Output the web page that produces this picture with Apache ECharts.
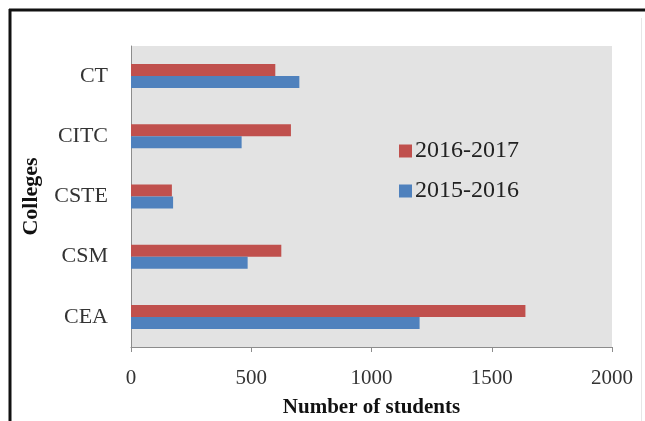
<!DOCTYPE html>
<html><head><meta charset="utf-8">
<script src="https://cdn.jsdelivr.net/npm/echarts@6/dist/echarts.min.js"></script>
<style>html,body{margin:0;padding:0;background:#fff}#c{width:645px;height:421px}</style>
</head><body><div id="c"></div>
<script>
var categories = ['CEA', 'CSM', 'CSTE', 'CITC', 'CT'];
var seriesNames = ['2016-2017', '2015-2016'];
var values2016 = [1640, 625, 170, 665, 600];
var values2015 = [1200, 485, 175, 460, 700];
var xTicks = [0, 500, 1000, 1500, 2000];

var chart = echarts.init(document.getElementById('c'), null, {renderer: 'canvas'});
var serif = '"Liberation Serif", "DejaVu Serif", serif';
chart.setOption({
  animation: false,
  backgroundColor: '#fff',
  grid: {left: 131, right: 33, top: 46, bottom: 74, show: true, backgroundColor: '#e3e3e3', borderWidth: 0,
         outerBoundsMode: 'none', containLabel: false},
  legend: {
    data: seriesNames,
    orient: 'vertical', left: 394, top: 134, itemWidth: 13, itemHeight: 13, itemGap: 16,
    icon: 'rect',
    textStyle: {fontFamily: serif, fontSize: 24, color: '#222', padding: [0, 0, 0, -2]}
  },
  xAxis: {
    type: 'value', min: xTicks[0], max: xTicks[xTicks.length - 1], interval: 500,
    name: 'Number of students', nameLocation: 'middle', nameGap: 50,
    nameTextStyle: {fontFamily: serif, fontSize: 21, fontWeight: 'bold', color: '#111'},
    axisLine: {show: true, lineStyle: {color: '#8c8c8c', width: 1}},
    axisTick: {show: true, length: 5, lineStyle: {color: '#8c8c8c'}},
    axisLabel: {fontFamily: serif, fontSize: 21, color: '#333', margin: 21,
                formatter: function (v) { return String(v); }},
    splitLine: {show: false}
  },
  yAxis: {
    type: 'category', data: categories,
    name: 'Colleges', nameLocation: 'middle', nameGap: 89, nameRotate: 90,
    nameTextStyle: {fontFamily: serif, fontSize: 22, fontWeight: 'bold', color: '#111'},
    axisLine: {show: true, lineStyle: {color: '#8c8c8c', width: 1}},
    axisTick: {show: false},
    axisLabel: {fontFamily: serif, fontSize: 22, color: '#333', margin: 23}
  },
  series: [
    {name: seriesNames[0], type: 'bar', data: values2016, barWidth: 12, barGap: '0%',
     itemStyle: {color: '#c0504d'}},
    {name: seriesNames[1], type: 'bar', data: values2015, barWidth: 12, barGap: '0%',
     itemStyle: {color: '#4f81bd'}}
  ],
  graphic: [
    {type: 'line', shape: {x1: 9, y1: 10, x2: 645, y2: 10}, style: {stroke: '#111', lineWidth: 3}},
    {type: 'line', shape: {x1: 10, y1: 9, x2: 10, y2: 421}, style: {stroke: '#111', lineWidth: 3}},
    {type: 'line', shape: {x1: 641.5, y1: 18, x2: 641.5, y2: 421}, style: {stroke: '#e6e6e6', lineWidth: 1}}
  ]
});
</script></body></html>
